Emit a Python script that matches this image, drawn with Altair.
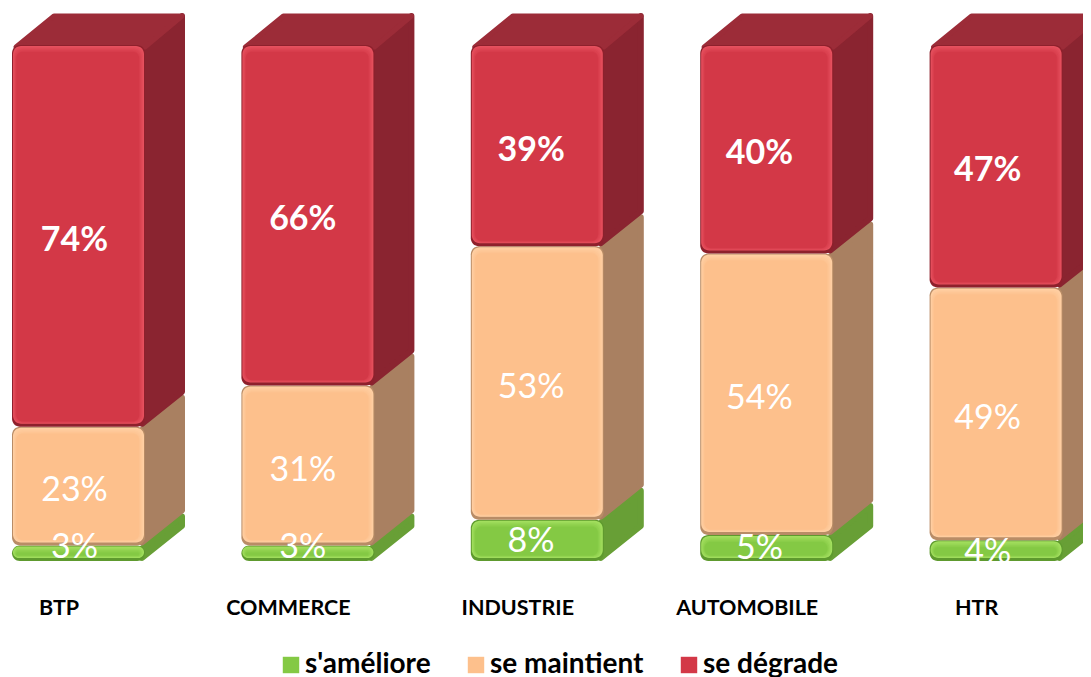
import altair as alt
import pandas as pd

categories = ["BTP", "COMMERCE", "INDUSTRIE", "AUTOMOBILE", "HTR"]
series = ["s'améliore", "se maintient", "se dégrade"]
ameliore = [3, 3, 8, 5, 4]
maintient = [23, 31, 53, 54, 49]
degrade = [74, 66, 39, 40, 47]

FRONT = ["#84C944", "#FDC08C", "#D33847"]
LIGHT = ["#A2DE5E", "#FFCFA3", "#E6505E"]
DARK = ["#5E9A2E", "#B98C66", "#8E202C"]
SIDE = ["#689F36", "#A98061", "#8A2430"]
TOP = "#9C2C38"

PW, PH = 1075, 553
UX = 229.4          # px per category
UY = 5.16           # px per percent
BAR = 133 / UX / 2
DX, DY = 40 / UX, 32 / UY
ymax = PH / UY
xmin = -70.5 / UX
xmax = xmin + PW / UX
px = 1 / UX
py = 1 / UY
STEPS = 6
LABEL_STEP = 228.3 / UX   # value labels are spaced slightly tighter than the bars

# small labels sit higher than their segment centre in the reference (px)
nudge = {("BTP", 0): 8, ("COMMERCE", 0): 8, ("AUTOMOBILE", 0): 2, ("HTR", 0): 1, ("INDUSTRIE", 0): 1}


def mix(a, b, t):
    ca = [int(a[i:i + 2], 16) for i in (1, 3, 5)]
    cb = [int(b[i:i + 2], 16) for i in (1, 3, 5)]
    return "#" + "".join(f"{round(p + (q - p) * t):02X}" for p, q in zip(ca, cb))


front, bevel, side, labels, top = [], [], [], [], []
for i, c in enumerate(categories):
    vals = [ameliore[i], maintient[i], degrade[i]]
    tot = sum(vals)
    base = 0.0
    for s, v in enumerate(vals):
        h = v / tot * 100
        y0, y1 = base, base + h
        x0, x1 = i - BAR, i + BAR
        front.append(dict(series=series[s], x0=x0, x1=x1, y0=y0, y1=y1, dark=DARK[s]))
        for k in range(STEPS):
            t = k / (STEPS - 1)
            bevel.append(dict(order=k, series=series[s], c=mix(LIGHT[s], FRONT[s], t),
                              x0=x0 + (1 + k * 0.7) * px, x1=x1 - (1 + k * 1.0) * px,
                              y0=y0 + (3 + k * 0.5) * py, y1=y1 - (1 + k * 1.2) * py))
        key = f"{c}{s}"
        ins_x, ins_y = 3 * px, 3 * py
        side.append(dict(k=key, x=x1 - ins_x, y=y0 + ins_y, y2=y1 - ins_y, c=SIDE[s]))
        side.append(dict(k=key, x=x1 + DX - ins_x, y=y0 + DY + ins_y, y2=y1 + DY - ins_y, c=SIDE[s]))
        shift = nudge.get((c, s), 0) if s == 0 else -2
        labels.append(dict(x=i * LABEL_STEP - 4 * px, y=(y0 + y1) / 2 + shift * py,
                           t=f"{v}%", bold=s == 2))
        base = y1
    top.append(dict(k=c, y=100 - 2 * py, x=i - BAR + 4 * px, x2=i + BAR))
    top.append(dict(k=c, y=100 + DY - 3 * py, x=i - BAR + DX + 2 * px, x2=i + BAR + DX - 3 * px))

fd = pd.DataFrame(front)
bd = pd.DataFrame(bevel)

X = alt.Scale(domain=[xmin, xmax], nice=False, zero=False)
Y = alt.Scale(domain=[0, ymax], nice=False)
names = "[" + ",".join(f"'{c}'" for c in categories) + "]"
xaxis = alt.Axis(values=list(range(len(categories))), labelExpr=f"{names}[datum.value]",
                 title=None, domain=False, ticks=False, grid=False, labelFont="Lato",
                 labelFontWeight="bold", labelFontSize=21.5, labelColor="#000000",
                 labelPadding=36, labelOffset=-20, labelAngle=0, labelFlush=False,
                 labelOverlap=False)

sides = alt.Chart(pd.DataFrame(side)).mark_area(orient="vertical", strokeWidth=6, strokeJoin="round", clip=True).encode(
    x=alt.X("x:Q", scale=X, axis=xaxis),
    y=alt.Y("y:Q", scale=Y, axis=None),
    y2="y2:Q",
    detail="k:N",
    color=alt.Color("c:N", scale=None),
    stroke=alt.Stroke("c:N", scale=None),
)
tops = alt.Chart(pd.DataFrame(top)).mark_area(orient="horizontal", color=TOP, stroke=TOP, strokeWidth=5, strokeJoin="round", clip=True).encode(
    y=alt.Y("y:Q", scale=Y),
    x=alt.X("x:Q", scale=X),
    x2="x2:Q",
    detail="k:N",
)
dark = alt.Chart(fd).mark_rect(cornerRadius=8, clip=True).encode(
    x=alt.X("x0:Q", scale=X), x2="x1:Q",
    y=alt.Y("y0:Q", scale=Y), y2="y1:Q",
    color=alt.Color("dark:N", scale=None),
)
bevel_layers = [
    alt.Chart(bd[bd.order == k]).mark_rect(cornerRadius=8, clip=True).encode(
        x=alt.X("x0:Q", scale=X), x2="x1:Q",
        y=alt.Y("y0:Q", scale=Y), y2="y1:Q",
        color=alt.Color("c:N", scale=None),
    )
    for k in range(STEPS - 1)
]
main = alt.Chart(bd[bd.order == STEPS - 1]).mark_rect(cornerRadius=6, clip=True).encode(
    x=alt.X("x0:Q", scale=X), x2="x1:Q",
    y=alt.Y("y0:Q", scale=Y), y2="y1:Q",
    color=alt.Color("series:N", scale=alt.Scale(domain=series, range=FRONT),
                    legend=alt.Legend(title=None, orient="none", legendX=269, legendY=643, columns=3,
                                      columnPadding=31, symbolType="square", symbolSize=270,
                                      symbolStrokeWidth=0, labelFont="Lato", labelFontWeight="bold",
                                      labelFontSize=28, labelColor="#000000", labelOffset=0,
                                      padding=0, labelLimit=300)),
)
ld = pd.DataFrame(labels)
txt_n = alt.Chart(ld[~ld.bold]).mark_text(font="Lato", fontSize=34, color="#FFFFFF", dy=3).encode(
    x=alt.X("x:Q", scale=X), y=alt.Y("y:Q", scale=Y), text="t:N")
txt_b = alt.Chart(ld[ld.bold]).mark_text(font="Lato", fontSize=34, fontWeight="bold", color="#FFFFFF", dy=3).encode(
    x=alt.X("x:Q", scale=X), y=alt.Y("y:Q", scale=Y), text="t:N")

chart = alt.layer(sides, tops, dark, *bevel_layers, main, txt_n, txt_b).properties(
    width=PW, height=PH, padding=0, background="#FFFFFF"
).configure_view(stroke=None).configure_legend(padding=0)

chart.save("out.html", embed_options={"renderer": "svg", "actions": False})
